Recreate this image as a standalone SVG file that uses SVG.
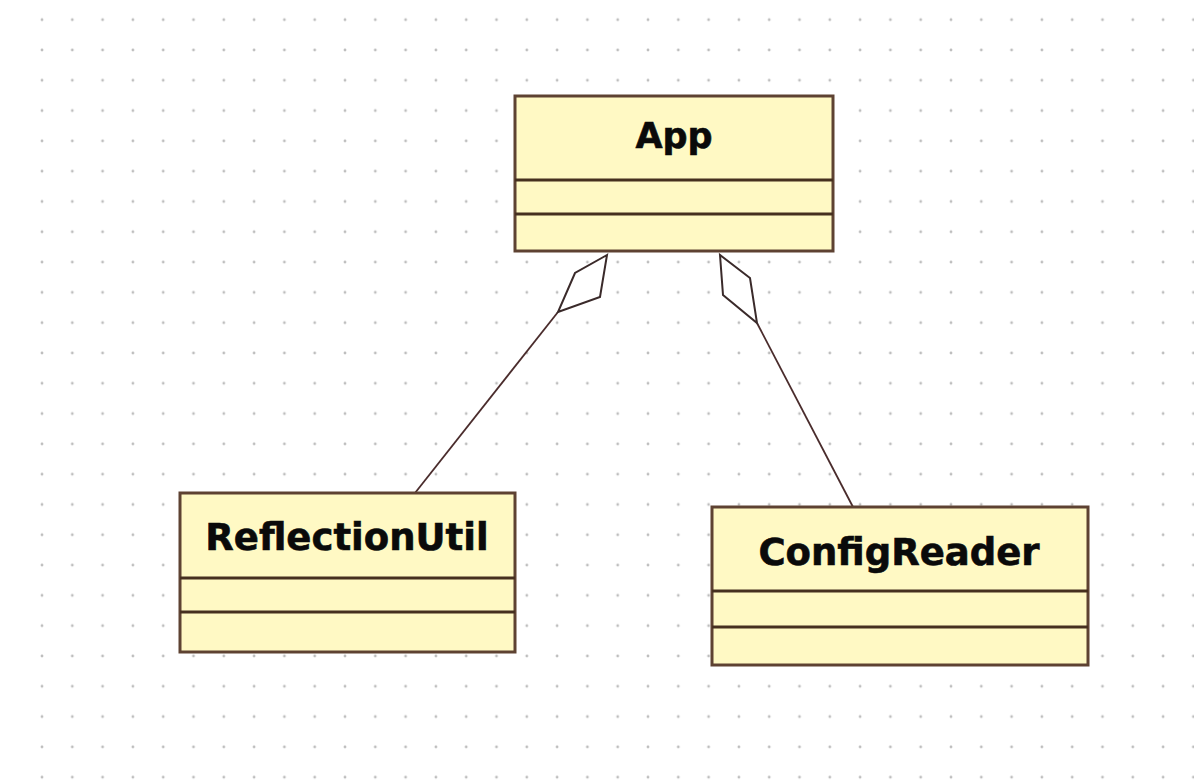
<svg xmlns="http://www.w3.org/2000/svg" width="1194" height="780" viewBox="0 0 1194 780">
  <style>
    .box { fill: #FFF9C4; stroke: #5e4232; stroke-width: 3; }
    .div { stroke: #46301f; stroke-width: 2.8; }
    .lbl { font-family: "DejaVu Sans", "Liberation Sans", sans-serif; font-weight: bold; fill: #0a0a0a; stroke: #0a0a0a; stroke-width: 0.6; text-anchor: middle; }
    .conn { fill: none; stroke: #4a2c2c; stroke-width: 1.8; }
    .dia { fill: #ffffff; stroke: #3a2a2a; stroke-width: 2; stroke-linejoin: miter; }
  </style>
  <defs>
    <pattern id="grid" x="11.7" y="19.7" width="30.3" height="30.3" patternUnits="userSpaceOnUse">
      <circle cx="0" cy="0" r="1.4" fill="#bdbdbd"/>
      <circle cx="30.3" cy="0" r="1.4" fill="#bdbdbd"/>
      <circle cx="0" cy="30.3" r="1.4" fill="#bdbdbd"/>
      <circle cx="30.3" cy="30.3" r="1.4" fill="#bdbdbd"/>
    </pattern>
  </defs>
  <rect x="0" y="0" width="1194" height="780" fill="#ffffff"/>
  <rect x="25" y="10" width="1169" height="770" fill="url(#grid)"/>

  <g id="connectors">
    <line class="conn" x1="558" y1="312" x2="415" y2="493"/>
    <polygon class="dia" points="607,255 575,273 558,312 600,297"/>
    <line class="conn" x1="757" y1="323" x2="853" y2="507"/>
    <polygon class="dia" points="720,255 723,295 757,323 750,278"/>
  </g>

  <g id="App">
    <rect class="box" x="515" y="96" width="318" height="155"/>
    <line class="div" x1="515" y1="180" x2="833" y2="180"/>
    <line class="div" x1="515" y1="214" x2="833" y2="214"/>
    <text class="lbl" x="674" y="148" font-size="35">App</text>
  </g>

  <g id="ReflectionUtil">
    <rect class="box" x="180" y="493" width="335" height="159"/>
    <line class="div" x1="180" y1="578" x2="515" y2="578"/>
    <line class="div" x1="180" y1="612" x2="515" y2="612"/>
    <text class="lbl" x="347" y="550" font-size="37">ReflectionUtil</text>
  </g>

  <g id="ConfigReader">
    <rect class="box" x="712" y="507" width="376" height="158"/>
    <line class="div" x1="712" y1="591" x2="1088" y2="591"/>
    <line class="div" x1="712" y1="627" x2="1088" y2="627"/>
    <text class="lbl" x="899" y="565" font-size="37">ConfigReader</text>
  </g>
</svg>
